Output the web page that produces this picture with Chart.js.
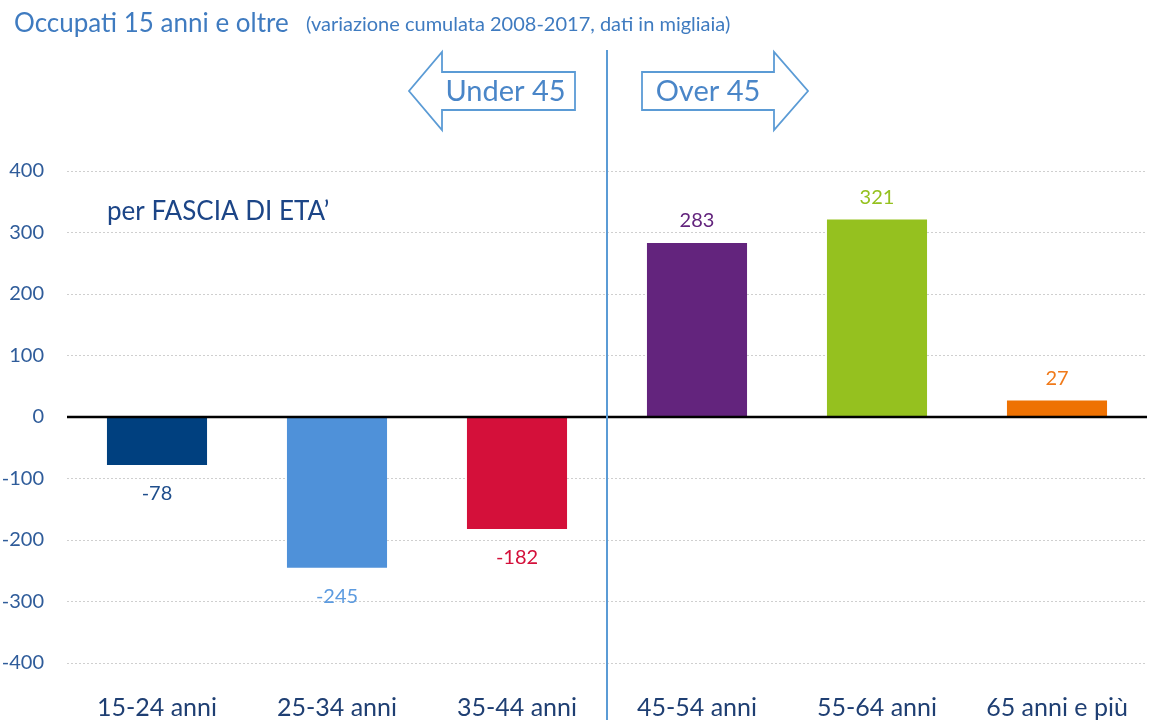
<!DOCTYPE html>
<html>
<head>
<meta charset="utf-8">
<script src="https://cdn.jsdelivr.net/npm/chart.js@4.4.1/dist/chart.umd.min.js"></script>
<style>
html,body{margin:0;padding:0;background:#fff;}
#wrap{width:1149px;height:720px;position:relative;}
</style>
</head>
<body>
<div id="wrap"><canvas id="c" width="1149" height="720"></canvas></div>
<script>
const categories = ["15-24 anni", "25-34 anni", "35-44 anni", "45-54 anni", "55-64 anni", "65 anni e più"];
const values = [-78, -245, -182, 283, 321, 27];
const barColors = ["#00407F", "#4F91D9", "#D4103A", "#63247D", "#95C11F", "#EE7203"];
const labelColors = ["#1F4E8C", "#5C9BE0", "#D4103A", "#63247D", "#95C11F", "#F07A1A"];
const yTicks = [-400, -300, -200, -100, 0, 100, 200, 300, 400];
const titleText = "Occupati 15 anni e oltre";
const subtitleText = "(variazione cumulata 2008-2017, dati in migliaia)";
const groupLabel = "per FASCIA DI ETA’";
const leftArrowText = "Under 45";
const rightArrowText = "Over 45";

const FONT = "Lato";

const overlay = {
  id: 'overlay',
  afterDatasetsDraw(chart) {
    const ctx = chart.ctx;
    const ca = chart.chartArea;
    const y = chart.scales.y, x = chart.scales.x;
    // zero line
    const y0 = y.getPixelForValue(0);
    ctx.save();
    ctx.strokeStyle = '#000';
    ctx.lineWidth = 2.5;
    ctx.beginPath();
    ctx.moveTo(ca.left, y0);
    ctx.lineTo(ca.right, y0);
    ctx.stroke();
    // value labels
    const meta = chart.getDatasetMeta(0);
    ctx.font = '20px ' + FONT;
    ctx.textAlign = 'center';
    ctx.textBaseline = 'middle';
    meta.data.forEach((bar, i) => {
      const v = values[i];
      ctx.fillStyle = labelColors[i];
      const ly = v >= 0 ? bar.y - 22 : bar.y + 29;
      ctx.fillText(String(v), bar.x, ly);
    });
    // divider
    const xd = (x.getPixelForValue(2) + x.getPixelForValue(3)) / 2;
    ctx.strokeStyle = '#5B9BD5';
    ctx.lineWidth = 2;
    ctx.beginPath();
    ctx.moveTo(xd, 50);
    ctx.lineTo(xd, 720);
    ctx.stroke();
    // arrows
    ctx.strokeStyle = '#5B9BD5';
    ctx.fillStyle = '#fff';
    ctx.lineWidth = 1.8;
    // left arrow
    const lr = xd - 32, ln = xd - 165, lt = xd - 198;
    ctx.beginPath();
    ctx.moveTo(lr, 72); ctx.lineTo(ln, 72); ctx.lineTo(ln, 52); ctx.lineTo(lt, 91);
    ctx.lineTo(ln, 130); ctx.lineTo(ln, 110); ctx.lineTo(lr, 110); ctx.closePath();
    ctx.fill(); ctx.stroke();
    // right arrow
    const rl = xd + 35, rn = xd + 167, rt = xd + 201;
    ctx.beginPath();
    ctx.moveTo(rl, 72); ctx.lineTo(rn, 72); ctx.lineTo(rn, 52); ctx.lineTo(rt, 91);
    ctx.lineTo(rn, 130); ctx.lineTo(rn, 110); ctx.lineTo(rl, 110); ctx.closePath();
    ctx.fill(); ctx.stroke();
    ctx.fillStyle = '#4A86C8';
    ctx.font = '29px ' + FONT;
    ctx.textAlign = 'center';
    ctx.fillText(leftArrowText, (lr + ln) / 2 - 3, 92);
    ctx.fillText(rightArrowText, (rl + rn) / 2, 92);
    // title
    ctx.textAlign = 'left';
    ctx.textBaseline = 'alphabetic';
    ctx.fillStyle = '#3F7BC0';
    ctx.font = '26px ' + FONT;
    ctx.fillText(titleText, 14, 32);
    ctx.font = '20px ' + FONT;
    ctx.fillText(subtitleText, 306, 31);
    // group label
    ctx.fillStyle = '#1C4587';
    ctx.font = '26px ' + FONT;
    ctx.textBaseline = 'middle';
    ctx.fillText(groupLabel, 107, 212);
    ctx.restore();
  }
};

new Chart(document.getElementById('c'), {
  type: 'bar',
  data: {
    labels: categories,
    datasets: [{
      data: values,
      backgroundColor: barColors,
      borderWidth: 0,
      categoryPercentage: 1,
      barPercentage: 0.556
    }]
  },
  options: {
    responsive: false,
    animation: false,
    devicePixelRatio: 1,
    layout: { padding: { top: 171, right: 2, left: 0, bottom: 0 } },
    plugins: { legend: { display: false }, tooltip: { enabled: false }, title: { display: false } },
    scales: {
      x: {
        grid: { display: false, drawTicks: false },
        border: { display: false },
        ticks: { color: '#1F3F73', font: { family: FONT, size: 25 }, padding: 30, maxRotation: 0, autoSkip: false },
        afterFit(s) { s.height = 57; s.paddingLeft = 0; s.paddingRight = 0; }
      },
      y: {
        min: -400, max: 400,
        afterBuildTicks(s) { s.ticks = yTicks.map(v => ({ value: v })); },
        grid: {
          drawTicks: false,
          color: ctx => (ctx.tick && ctx.tick.value === 0) ? 'rgba(0,0,0,0)' : '#CFCFCF',
          lineWidth: 1
        },
        border: { display: false, dash: [2, 2] },
        ticks: { color: '#2F5C9A', font: { family: FONT, size: 20 }, padding: 23 },
        afterFit(s) { s.width = 67; }
      }
    }
  },
  plugins: [overlay]
});
</script>
</body>
</html>
